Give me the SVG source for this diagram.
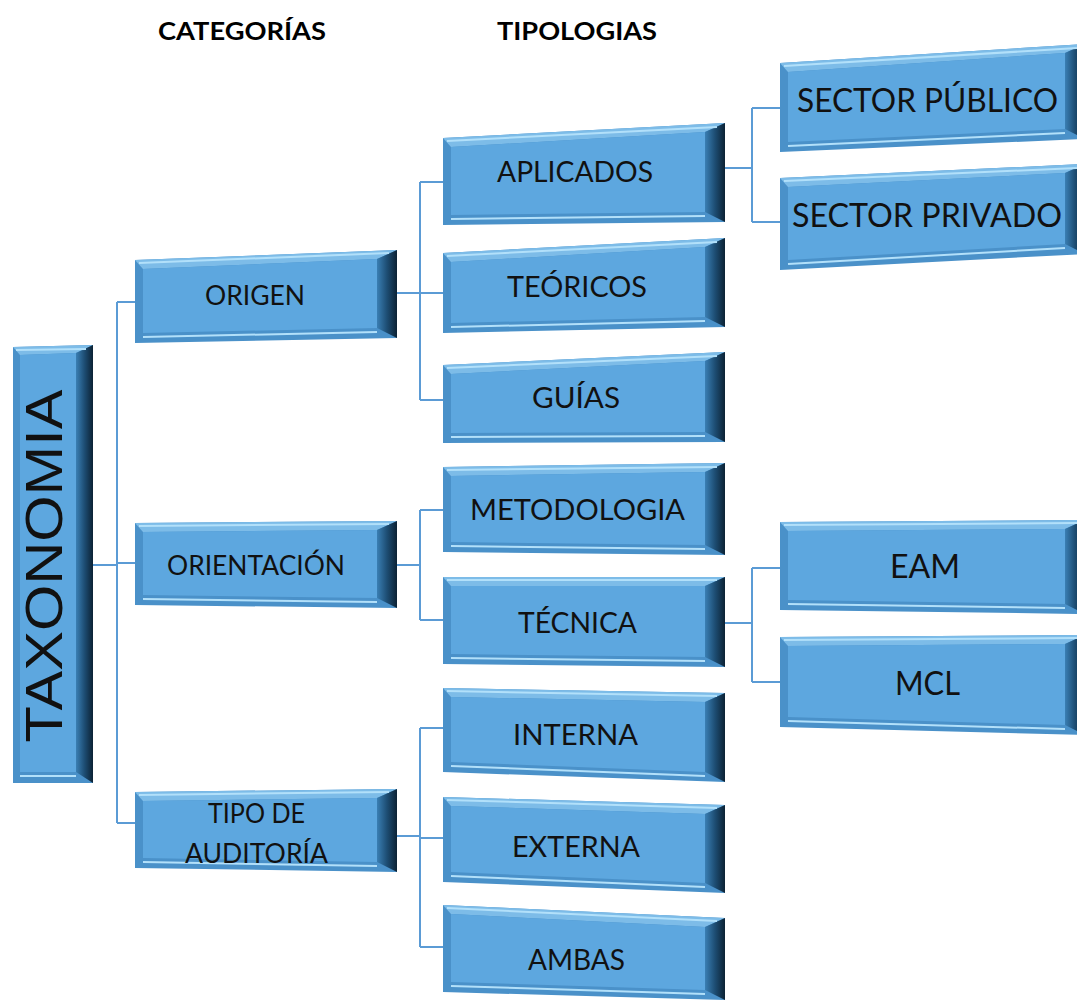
<svg xmlns="http://www.w3.org/2000/svg" width="1077" height="1006" viewBox="0 0 1077 1006">
<defs>
<linearGradient id="rg" x1="0" y1="0" x2="1" y2="0">
<stop offset="0" stop-color="#3a7fb4"/>
<stop offset="0.5" stop-color="#1d4d73"/>
<stop offset="1" stop-color="#0c2234"/>
</linearGradient>
<style>
.base{fill:#4a91c9}
.top{fill:#7dbce8}
.right{fill:url(#rg)}
.face{fill:#5da7df}
.hl{stroke:#b2e0fa;stroke-width:2;fill:none}
.lbl{font-family:Lato,"Liberation Sans",sans-serif;fill:#111;text-anchor:middle}
.l1{font-size:27px}
.l2{font-size:28px}
.l3{font-size:33px}
.hdr{font-family:Lato,"Liberation Sans",sans-serif;font-weight:bold;font-size:24px;fill:#000;text-anchor:middle}
.cn path{stroke:#5b9bd5;stroke-width:2;fill:none}
</style>
</defs>
<rect width="1077" height="1006" fill="#fff"/>

<text class="hdr" x="242" y="40" textLength="168" lengthAdjust="spacingAndGlyphs">CATEGORÍAS</text>
<text class="hdr" x="577" y="40" textLength="160" lengthAdjust="spacingAndGlyphs">TIPOLOGIAS</text>

<g class="cn" id="connectors">
<path d="M92,565 H117 M117,302 V823 M117,302 H135 M117,563 H135 M117,823 H135"/>
<path d="M397,293 H420 M420,182 V400 M420,182 H443 M420,293 H443 M420,400 H443"/>
<path d="M397,565 H420 M420,510 V620 M420,510 H443 M420,620 H443"/>
<path d="M397,836 H420 M420,728 V947 M420,728 H443 M420,838 H443 M420,947 H443"/>
<path d="M725,168 H752 M752,108 V222 M752,108 H780 M752,222 H780"/>
<path d="M725,623 H752 M752,568 V682 M752,568 H780 M752,682 H780"/>
</g>

<g id="n-taxonomia">
<polygon class="base" points="13,347 93,345 93,783 13,783"/>
<polygon class="top" points="13,347 93,345 76,353 20,355"/>
<polygon class="right" points="93,345 93,783 76,772 76,353"/>
<polygon class="face" points="20,355 76,353 76,772 20,772"/>
<line class="hl" x1="20" y1="776" x2="76" y2="776"/>
<line class="hl" x1="16" y1="350" x2="86" y2="349"/>
<text transform="translate(62,566) rotate(-90)" style="font-family:'Liberation Sans',Arial,sans-serif;font-size:52px;fill:#111;text-anchor:middle" textLength="353" lengthAdjust="spacingAndGlyphs">TAXONOMIA</text>
</g>

<g id="n-origen">
<polygon class="base" points="135,260 397,250 397,338 135,343"/>
<polygon class="top" points="135,260 397,250 377,259 143,269"/>
<polygon class="right" points="397,250 397,338 377,328 377,259"/>
<polygon class="face" points="143,269 377,259 377,328 143,333"/>
<line class="hl" x1="143" y1="337" x2="377" y2="332"/>
<line class="hl" x1="139" y1="263" x2="389" y2="253"/>
<text class="lbl l1" x="255" y="305" textLength="100" lengthAdjust="spacingAndGlyphs">ORIGEN</text>
</g>

<g id="n-orientacion">
<polygon class="base" points="135,523 397,521 397,608 135,605"/>
<polygon class="top" points="135,523 397,521 377,530 143,532"/>
<polygon class="right" points="397,521 397,608 377,598 377,530"/>
<polygon class="face" points="143,532 377,530 377,598 143,595"/>
<line class="hl" x1="143" y1="599" x2="377" y2="602"/>
<line class="hl" x1="139" y1="526" x2="389" y2="524"/>
<text class="lbl l1" x="256" y="575" textLength="178" lengthAdjust="spacingAndGlyphs">ORIENTACIÓN</text>
</g>

<g id="n-tipo">
<polygon class="base" points="135,792 397,789 397,872 135,868"/>
<polygon class="top" points="135,792 397,789 377,798 143,801"/>
<polygon class="right" points="397,789 397,872 377,862 377,798"/>
<polygon class="face" points="143,801 377,798 377,862 143,858"/>
<line class="hl" x1="143" y1="862" x2="377" y2="866"/>
<line class="hl" x1="139" y1="795" x2="389" y2="792"/>
<text class="lbl l1" x="256.5" y="823" textLength="97" lengthAdjust="spacingAndGlyphs">TIPO DE</text>
<text class="lbl l1" x="256.5" y="863" textLength="143" lengthAdjust="spacingAndGlyphs">AUDITORÍA</text>
</g>

<g id="n-aplicados">
<polygon class="base" points="443,138 725,123 725,222 443,225"/>
<polygon class="top" points="443,138 725,123 705,132 451,147"/>
<polygon class="right" points="725,123 725,222 705,212 705,132"/>
<polygon class="face" points="451,147 705,132 705,212 451,215"/>
<line class="hl" x1="451" y1="219" x2="705" y2="216"/>
<line class="hl" x1="447" y1="141" x2="717" y2="127"/>
<text class="lbl l2" x="575" y="182" textLength="156" lengthAdjust="spacingAndGlyphs">APLICADOS</text>
</g>

<g id="n-teoricos">
<polygon class="base" points="443,253 725,238 725,327 443,333"/>
<polygon class="top" points="443,253 725,238 705,247 451,262"/>
<polygon class="right" points="725,238 725,327 705,317 705,247"/>
<polygon class="face" points="451,262 705,247 705,317 451,323"/>
<line class="hl" x1="451" y1="327" x2="705" y2="321"/>
<line class="hl" x1="447" y1="256" x2="717" y2="242"/>
<text class="lbl l2" x="577" y="297" textLength="140" lengthAdjust="spacingAndGlyphs">TEÓRICOS</text>
</g>

<g id="n-guias">
<polygon class="base" points="443,365 725,352 725,442 443,443"/>
<polygon class="top" points="443,365 725,352 705,361 451,374"/>
<polygon class="right" points="725,352 725,442 705,432 705,361"/>
<polygon class="face" points="451,374 705,361 705,432 451,433"/>
<line class="hl" x1="451" y1="437" x2="705" y2="436"/>
<line class="hl" x1="447" y1="368" x2="717" y2="356"/>
<text class="lbl l2" x="576" y="408" textLength="88" lengthAdjust="spacingAndGlyphs">GUÍAS</text>
</g>

<g id="n-metodologia">
<polygon class="base" points="443,467 725,463 725,555 443,552"/>
<polygon class="top" points="443,467 725,463 705,472 451,476"/>
<polygon class="right" points="725,463 725,555 705,545 705,472"/>
<polygon class="face" points="451,476 705,472 705,545 451,542"/>
<line class="hl" x1="451" y1="546" x2="705" y2="549"/>
<line class="hl" x1="447" y1="470" x2="717" y2="467"/>
<text class="lbl l2" x="577.5" y="520" textLength="215" lengthAdjust="spacingAndGlyphs">METODOLOGIA</text>
</g>

<g id="n-tecnica">
<polygon class="base" points="443,577 725,577 725,667 443,664"/>
<polygon class="top" points="443,577 725,577 705,586 451,586"/>
<polygon class="right" points="725,577 725,667 705,657 705,586"/>
<polygon class="face" points="451,586 705,586 705,657 451,654"/>
<line class="hl" x1="451" y1="658" x2="705" y2="661"/>
<line class="hl" x1="447" y1="580" x2="717" y2="580"/>
<text class="lbl l2" x="577.5" y="633" textLength="119" lengthAdjust="spacingAndGlyphs">TÉCNICA</text>
</g>

<g id="n-interna">
<polygon class="base" points="443,688 725,693 725,782 443,772"/>
<polygon class="top" points="443,688 725,693 705,702 451,697"/>
<polygon class="right" points="725,693 725,782 705,772 705,702"/>
<polygon class="face" points="451,697 705,702 705,772 451,762"/>
<line class="hl" x1="451" y1="766" x2="705" y2="776"/>
<line class="hl" x1="447" y1="691" x2="717" y2="696"/>
<text class="lbl l2" x="575.5" y="745" textLength="125" lengthAdjust="spacingAndGlyphs">INTERNA</text>
</g>

<g id="n-externa">
<polygon class="base" points="443,797 725,805 725,893 443,882"/>
<polygon class="top" points="443,797 725,805 705,814 451,806"/>
<polygon class="right" points="725,805 725,893 705,883 705,814"/>
<polygon class="face" points="451,806 705,814 705,883 451,872"/>
<line class="hl" x1="451" y1="876" x2="705" y2="887"/>
<line class="hl" x1="447" y1="800" x2="717" y2="808"/>
<text class="lbl l2" x="576" y="857" textLength="128" lengthAdjust="spacingAndGlyphs">EXTERNA</text>
</g>

<g id="n-ambas">
<polygon class="base" points="443,905 725,918 725,1000 443,992"/>
<polygon class="top" points="443,905 725,918 705,927 451,914"/>
<polygon class="right" points="725,918 725,1000 705,990 705,927"/>
<polygon class="face" points="451,914 705,927 705,990 451,982"/>
<line class="hl" x1="451" y1="986" x2="705" y2="994"/>
<line class="hl" x1="447" y1="908" x2="717" y2="921"/>
<text class="lbl l2" x="576.5" y="970" textLength="97" lengthAdjust="spacingAndGlyphs">AMBAS</text>
</g>

<g id="n-sector-publico">
<polygon class="base" points="780,63 1085,44 1085,139 780,152"/>
<polygon class="top" points="780,63 1085,44 1065,53 788,72"/>
<polygon class="right" points="1085,44 1085,139 1065,129 1065,53"/>
<polygon class="face" points="788,72 1065,53 1065,129 788,142"/>
<line class="hl" x1="788" y1="146" x2="1065" y2="133"/>
<line class="hl" x1="784" y1="66" x2="1077" y2="48"/>
<text class="lbl l3" x="927.5" y="112" textLength="261" lengthAdjust="spacingAndGlyphs">SECTOR PÚBLICO</text>
</g>

<g id="n-sector-privado">
<polygon class="base" points="780,178 1085,164 1085,254 780,270"/>
<polygon class="top" points="780,178 1085,164 1065,173 788,187"/>
<polygon class="right" points="1085,164 1085,254 1065,244 1065,173"/>
<polygon class="face" points="788,187 1065,173 1065,244 788,260"/>
<line class="hl" x1="788" y1="264" x2="1065" y2="248"/>
<line class="hl" x1="784" y1="181" x2="1077" y2="168"/>
<text class="lbl l3" x="927" y="227" textLength="270" lengthAdjust="spacingAndGlyphs">SECTOR PRIVADO</text>
</g>

<g id="n-eam">
<polygon class="base" points="780,522 1085,520 1085,614 780,610"/>
<polygon class="top" points="780,522 1085,520 1065,529 788,531"/>
<polygon class="right" points="1085,520 1085,614 1065,604 1065,529"/>
<polygon class="face" points="788,531 1065,529 1065,604 788,600"/>
<line class="hl" x1="788" y1="604" x2="1065" y2="608"/>
<line class="hl" x1="784" y1="525" x2="1077" y2="523"/>
<text class="lbl l3" x="925" y="578" textLength="70" lengthAdjust="spacingAndGlyphs">EAM</text>
</g>

<g id="n-mcl">
<polygon class="base" points="780,637 1085,635 1085,735 780,727"/>
<polygon class="top" points="780,637 1085,635 1065,644 788,646"/>
<polygon class="right" points="1085,635 1085,735 1065,725 1065,644"/>
<polygon class="face" points="788,646 1065,644 1065,725 788,717"/>
<line class="hl" x1="788" y1="721" x2="1065" y2="729"/>
<line class="hl" x1="784" y1="640" x2="1077" y2="638"/>
<text class="lbl l3" x="927.5" y="695" textLength="65" lengthAdjust="spacingAndGlyphs">MCL</text>
</g>
</svg>
